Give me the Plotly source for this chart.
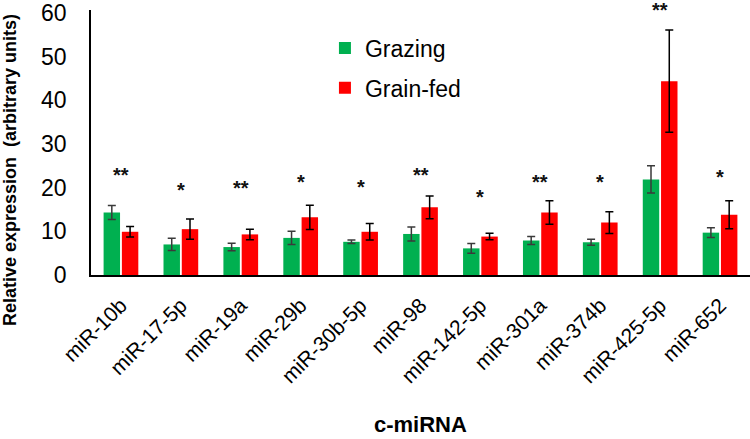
import plotly.graph_objects as go

categories = ["miR-10b", "miR-17-5p", "miR-19a", "miR-29b", "miR-30b-5p", "miR-98",
              "miR-142-5p", "miR-301a", "miR-374b", "miR-425-5p", "miR-652"]
grazing = [14.3, 7.0, 6.4, 8.5, 7.6, 9.4, 6.1, 7.9, 7.5, 21.9, 9.7]
grazing_err = [1.6, 1.4, 0.85, 1.5, 0.4, 1.6, 1.1, 0.9, 0.7, 3.1, 1.1]
grainfed = [9.9, 10.5, 9.3, 13.2, 9.9, 15.5, 8.8, 14.3, 12.0, 44.4, 13.8]
grainfed_err = [1.2, 2.3, 1.2, 2.8, 1.9, 2.6, 0.75, 2.7, 2.5, 11.7, 3.2]
significance = ["**", "*", "**", "*", "*", "**", "*", "**", "*", "**", "*"]
sig_y = [22.9, 19.5, 19.9, 21.3, 20.1, 22.9, 17.9, 21.3, 21.3, 60.8, 22.4]
y_ticks = [0, 10, 20, 30, 40, 50, 60]

FONT = "Liberation Sans, Arial, sans-serif"
YMAX = 60.7

fig = go.Figure()
fig.add_trace(go.Bar(
    name="Grazing", x=categories, y=grazing,
    marker=dict(color="#00b050", line=dict(width=0)),
    error_y=dict(type="data", array=grazing_err, color="#3a3a3a", thickness=1.5, width=4),
    legendgroup="a",
))
fig.add_trace(go.Bar(
    name="Grain-fed", x=categories, y=grainfed,
    marker=dict(color="#ff0000", line=dict(width=0)),
    error_y=dict(type="data", array=grainfed_err, color="#000000", thickness=1.5, width=4),
    legendgroup="b",
))

for c, s, yv in zip(categories, significance, sig_y):
    if yv > YMAX:
        fig.add_annotation(x=c, y=yv / YMAX, yref="paper", text="<b>" + s + "</b>", showarrow=False,
                           font=dict(family=FONT, size=20, color="#111111"),
                           xanchor="center", yanchor="middle")
    else:
        fig.add_annotation(x=c, y=yv, text="<b>" + s + "</b>", showarrow=False,
                           font=dict(family=FONT, size=20, color="#111111"),
                           xanchor="center", yanchor="middle")

# axis titles
fig.add_annotation(xref="paper", yref="paper", x=-0.123, y=0.396, textangle=-90,
                   text="<b>Relative expression  (arbitrary units)</b>", showarrow=False,
                   font=dict(family=FONT, size=18, color="black"),
                   xanchor="center", yanchor="middle")
fig.add_annotation(xref="paper", yref="paper", x=0.5, y=-0.566,
                   text="<b>c-miRNA</b>", showarrow=False,
                   font=dict(family=FONT, size=22, color="black"),
                   xanchor="center", yanchor="middle")

fig.update_layout(
    width=750, height=439,
    margin=dict(l=91, r=0, t=10, b=164),
    paper_bgcolor="white", plot_bgcolor="white",
    barmode="group", bargap=0.39, bargroupgap=0.1,
    font=dict(family=FONT, color="black"),
    showlegend=True,
    legend=dict(x=0.355, y=0.938, xanchor="left", yanchor="top",
                font=dict(family=FONT, size=23, color="black"),
                bgcolor="rgba(0,0,0,0)", traceorder="grouped", tracegroupgap=7,
                itemwidth=30),
    xaxis=dict(
        showline=True, linecolor="black", linewidth=1.5,
        ticks="", tickangle=-45, ticklabelstandoff=8,
        tickfont=dict(family=FONT, size=21, color="black"),
        automargin=False,
    ),
    yaxis=dict(
        range=[0, YMAX], tickvals=y_ticks,
        showline=True, linecolor="black", linewidth=1.5, showgrid=False, zeroline=False,
        ticks="", ticklabelstandoff=18,
        tickfont=dict(family=FONT, size=23, color="black"),
        automargin=False,
    ),
)

fig.write_html("out.html", config={"displayModeBar": False},
               post_script="document.body.style.margin='0';document.body.style.padding='0';")
